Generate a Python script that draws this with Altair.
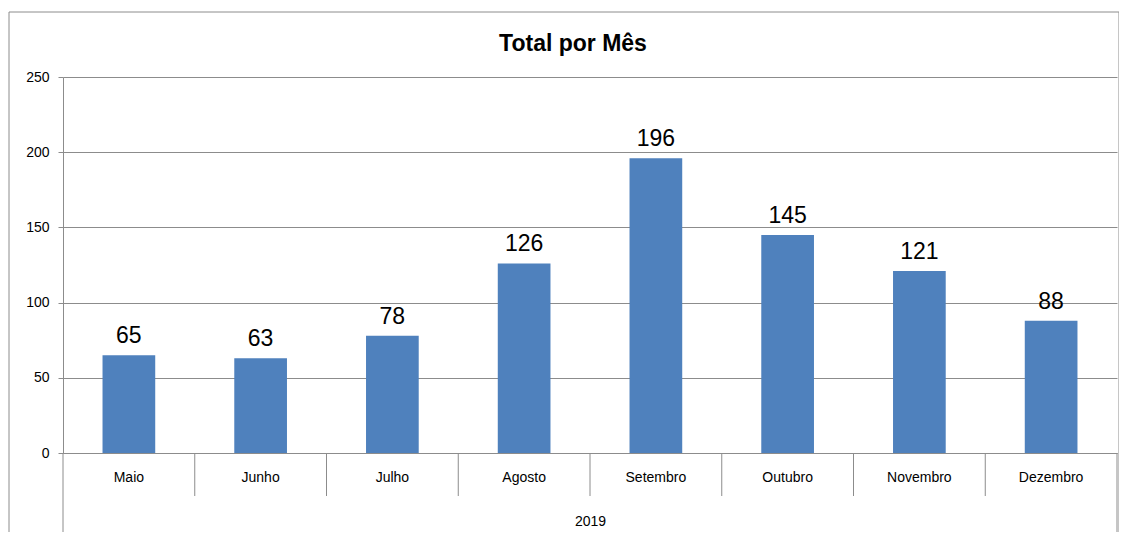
import altair as alt
import pandas as pd

months = ["Maio", "Junho", "Julho", "Agosto", "Setembro", "Outubro", "Novembro", "Dezembro"]
totals = [65, 63, 78, 126, 196, 145, 121, 88]
y_ticks = [0, 50, 100, 150, 200, 250]
year_label = "2019"
title_text = "Total por Mês"

df = pd.DataFrame({"mes": months, "total": totals})

W, H = 1054, 376
STEP = W / len(months)
GRAY = "#8c8c8c"
FONT = "Liberation Sans"

x_scale = alt.Scale(paddingInner=0.6, paddingOuter=0.3)
x_enc = alt.X(
    "mes:N", sort=months, scale=x_scale,
    axis=alt.Axis(
        title=year_label, titleFont=FONT, titleFontSize=14, titleFontWeight="normal",
        titleColor="#000000", titlePadding=18,
        labelAngle=0, labelFont=FONT, labelFontSize=14, labelColor="#000000",
        labelPadding=-26, ticks=True, tickSize=43, tickOpacity=0,
        domainColor=GRAY, grid=False,
    ),
)
y_enc = alt.Y(
    "total:Q",
    scale=alt.Scale(domain=[0, 250], nice=False),
    axis=alt.Axis(
        title=None, values=y_ticks, tickSize=5, tickColor=GRAY, domainColor=GRAY,
        labelFont=FONT, labelFontSize=14, labelColor="#000000", labelPadding=9,
        grid=True, gridColor=GRAY,
    ),
)

bars = alt.Chart(df).mark_bar(color="#4F81BD").encode(x=x_enc, y=y_enc)
labels = alt.Chart(df).mark_text(
    font=FONT, fontSize=23, baseline="alphabetic", dy=-12, color="#000000"
).encode(x=alt.X("mes:N", sort=months), y="total:Q", text="total:Q")

sep_df = pd.DataFrame({"mes": months[1:]})
separators = alt.Chart(sep_df).mark_rule(color=GRAY).encode(
    x=alt.X("mes:N", sort=months), xOffset=alt.value(-0.3 * STEP),
    y=alt.value(H), y2=alt.value(H + 43))

frame_df = pd.DataFrame({"k": [0]})
left_line = alt.Chart(frame_df).mark_rule(color=GRAY).encode(
    x=alt.value(0), y=alt.value(H), y2=alt.value(H + 100))
right_line = alt.Chart(frame_df).mark_rule(color=GRAY).encode(
    x=alt.value(W), y=alt.value(H), y2=alt.value(H + 100))
border = alt.Chart(frame_df).mark_rect(fill=None, stroke=GRAY, strokeWidth=1).encode(
    x=alt.value(-54), x2=alt.value(W + 2), y=alt.value(-65), y2=alt.value(H + 120))
title_df = pd.DataFrame({"t": [title_text]})
title = alt.Chart(title_df).mark_text(
    font=FONT, fontSize=23, fontWeight="bold", color="#000000",
    baseline="alphabetic", align="center"
).encode(x=alt.value(W / 2 - 17), y=alt.value(-26), text="t:N")

chart = alt.layer(border, bars, labels, separators, left_line, right_line, title).properties(
    width=W, height=H,
    autosize=alt.AutoSizeParams(type="none"),
    padding={"left": 55, "top": 69, "right": 2, "bottom": 79},
).configure_view(stroke=None)

chart.save("out.html", embed_options={"renderer": "svg", "actions": False})
